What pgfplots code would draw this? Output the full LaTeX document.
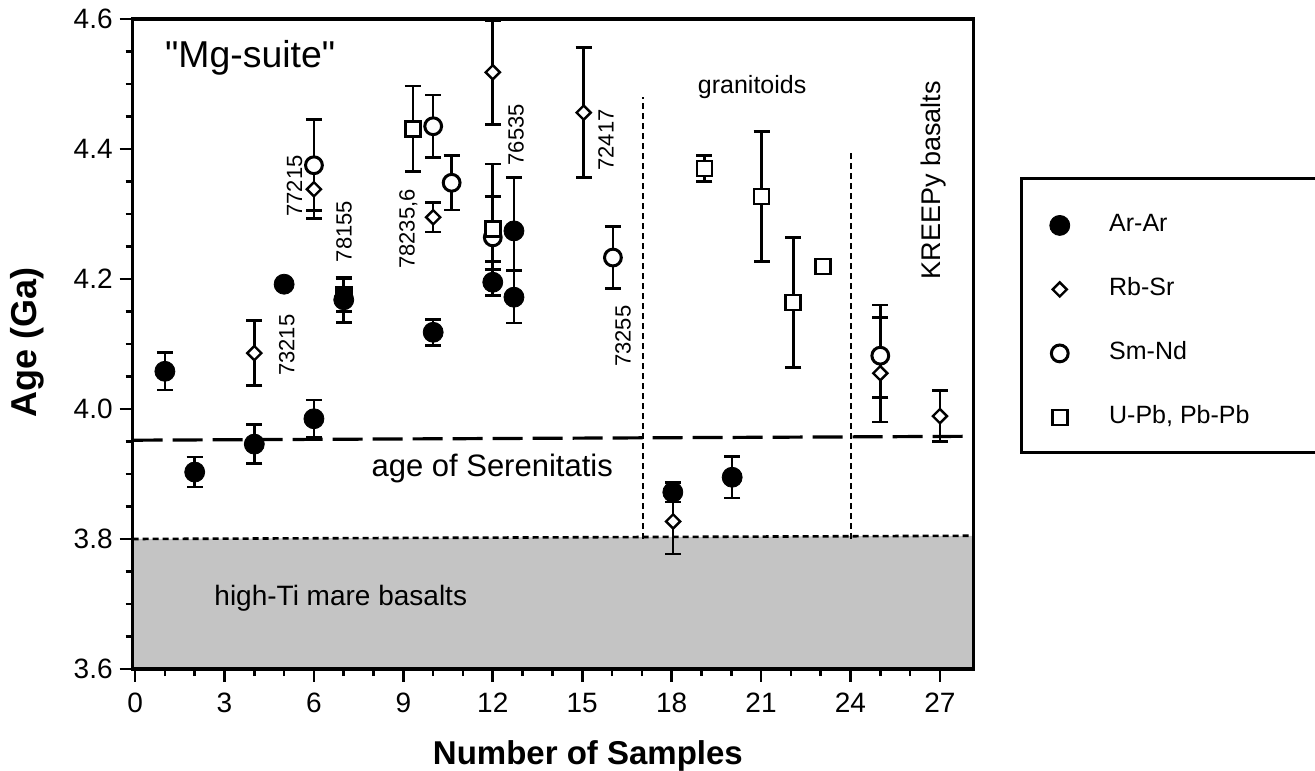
\documentclass[border=0pt]{standalone}
\usepackage{fontspec}
\setmainfont{Liberation Sans}
\newfontfamily\plainsans{Liberation Sans}
\usepackage{pgfplots}
\pgfplotsset{compat=1.18}
\usepackage{pgfplotstable}

\pgfplotstableread{
x y ep em
1.0 4.058 0.029 0.029
2.0 3.903 0.023 0.023
4.0 3.946 0.030 0.030
5.0 4.192 0.008 0.008
6.0 3.985 0.029 0.029
7.0 4.168 0.035 0.035
10.0 4.118 0.020 0.020
12.0 4.195 0.020 0.020
12.71 4.274 0.082 0.060
12.71 4.172 0.040 0.040
18.04 3.872 0.015 0.015
20.03 3.895 0.032 0.032
}\ArAr

\pgfplotstableread{
x y ep em
4.0 4.086 0.050 0.050
6.0 4.338 0.045 0.045
10.0 4.295 0.023 0.023
12.0 4.518 0.080 0.080
15.05 4.456 0.100 0.100
18.05 3.827 0.050 0.050
25.0 4.055 0.086 0.075
27.0 3.989 0.039 0.039
}\RbSr

\pgfplotstableread{
x y ep em
6.0 4.375 0.070 0.070
10.0 4.435 0.048 0.048
10.62 4.348 0.042 0.042
12.0 4.264 0.113 0.090
16.03 4.233 0.048 0.048
25.0 4.082 0.078 0.064
}\SmNd

\pgfplotstableread{
x y ep em
9.32 4.431 0.066 0.066
12.0 4.277 0.050 0.050
19.1 4.370 0.020 0.020
21.02 4.327 0.100 0.100
22.08 4.164 0.100 0.100
23.07 4.219 0.000 0.000
}\UPb

\pgfplotstableread{
x y ep em
7.0 4.175 0.025 0.025
}\UPbFilled

\pgfplotsset{
  myleg/.style={legend image code/.code={\path (-9pt,0pt) (9pt,0pt); \draw[##1] plot coordinates {(0pt,0pt)};}},
  myerr/.style={error bars/y dir=both, error bars/y explicit,
    error bars/error bar style={line width=1.3pt, black, solid},
    error bars/error mark options={rotate=90, black, line width=1.3pt, mark size=4pt, solid}},
}

\begin{document}
\begin{tikzpicture}
\begin{axis}[
  at={(0pt,0pt)}, anchor=south west,
  scale only axis, width=420.3pt, height=325pt,
  xmin=-0.08, xmax=28.12, ymin=3.6, ymax=4.6,
  clip=false, axis on top,
  font=\fontsize{12.5}{15}\selectfont,
  /pgf/number format/assume math mode=true,
  axis line style={line width=1.6pt},
  tick pos=left, tick align=outside,
  xtick={0,3,6,9,12,15,18,21,24,27}, minor x tick num=2,
  ytick={3.6,3.8,4.0,4.2,4.4,4.6}, minor y tick num=3,
  major tick length=6.5pt, minor tick length=3.5pt,
  tick style={line width=1.3pt, black},
  ticklabel style={font=\fontsize{14}{16}\selectfont},
  xticklabel style={yshift=-2pt},
  yticklabel style={/pgf/number format/.cd, fixed, fixed zerofill, precision=1},
  legend style={at={(axis description cs:1.0805,0.7015)}, anchor=north west,
    draw=none, fill=none, inner sep=0pt, row sep=20pt, column sep=15.5pt,
    font=\fontsize{12.5}{15}\selectfont,
    nodes={inner sep=0pt, text height=9pt, text depth=3pt}},
  legend cell align=left,
]
% shaded high-Ti mare basalt band
\addplot[draw=none, fill=black!23, forget plot] coordinates {(-0.08,3.6) (28.12,3.6) (28.12,3.805) (-0.08,3.8)} -- cycle;
\addplot[black, line width=1.3pt, dash pattern=on 3pt off 2pt, forget plot] coordinates {(-0.08,3.8) (28.12,3.805)};
% age of Serenitatis
\addplot[black, line width=1.6pt, dash pattern=on 15pt off 5pt, forget plot] coordinates {(-0.08,3.952) (28.12,3.958)};
% separators
\addplot[black, line width=0.9pt, dash pattern=on 3pt off 2pt, forget plot] coordinates {(17.04,3.8) (17.04,4.48)};
\addplot[black, line width=0.9pt, dash pattern=on 3pt off 2pt, forget plot] coordinates {(24.02,3.8) (24.02,4.397)};

\addplot[only marks, black, mark=*, mark size=5pt, myleg, myerr]
  table[x=x, y=y, y error plus=ep, y error minus=em]{\ArAr};
\addlegendentry{Ar-Ar}
\addplot[only marks, black, mark=square*, mark size=2.5pt, mark options={rotate=45, fill=white, line width=1.2pt}, myleg, myerr]
  table[x=x, y=y, y error plus=ep, y error minus=em]{\RbSr};
\addlegendentry{Rb-Sr}
\addplot[only marks, black, mark=*, mark size=4.2pt, mark options={fill=white, line width=1.5pt}, myleg, myerr]
  table[x=x, y=y, y error plus=ep, y error minus=em]{\SmNd};
\addlegendentry{Sm-Nd}
\addplot[only marks, black, mark=square*, mark size=3.75pt, mark options={fill=white, line width=1.3pt}, myleg, myerr]
  table[x=x, y=y, y error plus=ep, y error minus=em]{\UPb};
\addlegendentry{U-Pb, Pb-Pb}
\addplot[only marks, black, mark=square*, mark size=3.75pt, mark options={fill=black, line width=1.3pt}, myerr, forget plot]
  table[x=x, y=y, y error plus=ep, y error minus=em]{\UPbFilled};

% texts
\node[font=\plainsans\fontsize{18.7}{22}\selectfont] at (axis cs:3.86,4.54) {"Mg-suite"};
\node[font=\fontsize{12.5}{15}\selectfont] at (axis cs:20.7,4.495) {granitoids};
\node[font=\fontsize{15.5}{18}\selectfont] at (axis cs:11.98,3.908) {age of Serenitatis};
\node[font=\fontsize{14}{17}\selectfont] at (axis cs:6.9,3.709) {high-Ti mare basalts};
\node[rotate=90, font=\fontsize{13.5}{16}\selectfont] at (axis cs:26.77,4.352) {KREEPy basalts};
\node[rotate=90, font=\fontsize{11}{13}\selectfont] at (axis cs:5.35,4.343) {77215};
\node[rotate=90, font=\fontsize{11}{13}\selectfont] at (axis cs:7.01,4.273) {78155};
\node[rotate=90, font=\fontsize{11}{13}\selectfont] at (axis cs:5.09,4.098) {73215};
\node[rotate=90, font=\fontsize{11}{13}\selectfont] at (axis cs:9.17,4.277) {78235,6};
\node[rotate=90, font=\fontsize{11}{13}\selectfont] at (axis cs:12.78,4.422) {76535};
\node[rotate=90, font=\fontsize{11}{13}\selectfont] at (axis cs:15.8,4.414) {72417};
\node[rotate=90, font=\fontsize{11}{13}\selectfont] at (axis cs:16.37,4.112) {73255};
% axis labels
\node[rotate=90, font=\bfseries\fontsize{18}{22}\selectfont] at (axis description cs:-0.1257,0.503) {Age (Ga)};
\node[font=\bfseries\fontsize{16.5}{20}\selectfont] at (axis description cs:0.5415,-0.1338) {Number of Samples};
\end{axis}
% legend frame (right side runs off the picture, as in the reference)
\draw[line width=1.5pt] (600pt,245.35pt) -- (444.5pt,245.35pt) -- (444.5pt,108pt) -- (600pt,108pt);
\pgfresetboundingbox
\path[use as bounding box] (-66.35pt,-50.5pt) rectangle (591.15pt,334.5pt);
\end{tikzpicture}
\end{document}
